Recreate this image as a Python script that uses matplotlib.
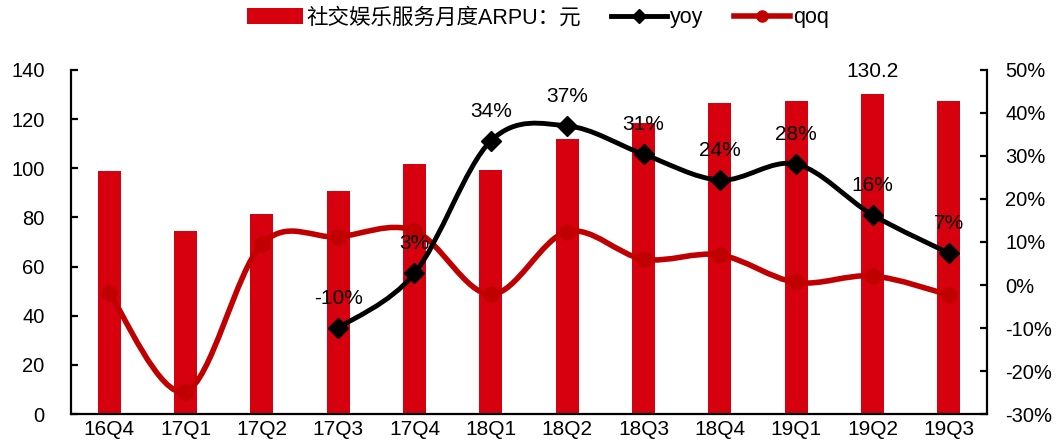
import numpy as np
import matplotlib
matplotlib.use("Agg")
import matplotlib.pyplot as plt
from matplotlib.path import Path
from matplotlib.patches import PathPatch
from matplotlib.lines import Line2D
from matplotlib.patches import Patch

plt.rcParams['font.family'] = ['Liberation Sans', 'Noto Sans CJK SC', 'DejaVu Sans']

quarters = ['16Q4', '17Q1', '17Q2', '17Q3', '17Q4', '18Q1', '18Q2',
            '18Q3', '18Q4', '19Q1', '19Q2', '19Q3']
arpu = [98.9, 74.5, 81.4, 90.6, 101.7, 99.3, 111.8, 118.3, 126.7, 127.4, 130.2, 127.3]
yoy = [None, None, None, -10.0, 2.7, 33.5, 37.0, 30.4, 24.4, 28.1, 16.3, 7.4]
yoy_labels = [None, None, None, '-10%', '3%', '34%', '37%', '31%', '24%', '28%', '16%', '7%']
qoq = [-1.8, -24.8, 9.5, 11.2, 12.6, -2.2, 12.4, 6.0, 7.0, 0.6, 2.1, -2.3]

BAR_RED = '#D7000F'
LINE_RED = '#C00000'


def smooth_path(xs, ys):
    """Bezier path through the points, with Catmull-Rom style control points."""
    pts = np.column_stack([xs, ys]).astype(float)
    n = len(pts)
    verts = [pts[0]]
    codes = [Path.MOVETO]
    for i in range(n - 1):
        p0 = pts[i - 1] if i > 0 else pts[i]
        p1 = pts[i]
        p2 = pts[i + 1]
        p3 = pts[i + 2] if i + 2 < n else pts[i + 1]
        c1 = p1 + (p2 - p0) / 6.0
        c2 = p2 - (p3 - p1) / 6.0
        verts += [c1, c2, p2]
        codes += [Path.CURVE4] * 3
    return Path(verts, codes)


fig = plt.figure(figsize=(10.56, 4.41), dpi=100)
ax = fig.add_axes([0.0672, 0.0612, 0.9347 - 0.0672, 0.8413 - 0.0612])
ax2 = ax.twinx()

x = np.arange(len(quarters))
ax.bar(x, arpu, width=0.3, color=BAR_RED, zorder=2)
ax.set_xlim(-0.5, len(quarters) - 0.5)
ax.set_ylim(0, 140)
ax.set_yticks(np.arange(0, 141, 20))
ax.set_xticks(x)
ax.set_xticklabels(quarters)

# value label on the peak bar
imax = int(np.argmax(arpu))
ax.annotate(f'{arpu[imax]:.1f}', (x[imax], arpu[imax]), xytext=(0, 16),
            textcoords='offset points', ha='center', va='center', fontsize=15)

ax2.set_ylim(-30, 50)
ax2.set_yticks(np.arange(-30, 51, 10))
ax2.set_yticklabels([f'{v}%' for v in range(-30, 51, 10)])

# qoq line
ax2.add_patch(PathPatch(smooth_path(x, qoq), fill=False, edgecolor=LINE_RED,
                        lw=4.0, capstyle='round', joinstyle='round', zorder=3))
ax2.plot(x, qoq, linestyle='none', marker='o', markersize=11,
         color=LINE_RED, zorder=3)

# yoy line
yx = np.array([i for i, v in enumerate(yoy) if v is not None])
yv = np.array([v for v in yoy if v is not None])
ax2.add_patch(PathPatch(smooth_path(yx, yv), fill=False, edgecolor='black',
                        lw=3.5, capstyle='round', joinstyle='round', zorder=4))
ax2.plot(yx, yv, linestyle='none', marker='D', markersize=10,
         color='black', zorder=4)
for i, v in zip(yx, yv):
    ax2.annotate(yoy_labels[i], (i, v), xytext=(0, 21.5), textcoords='offset points',
                 ha='center', va='center', fontsize=15, zorder=5)

for a in (ax, ax2):
    a.spines['top'].set_visible(False)
    for s in ('left', 'right', 'bottom'):
        a.spines[s].set_linewidth(1.6)
        a.spines[s].set_color('black')
ax.spines['right'].set_visible(False)
ax2.spines['left'].set_visible(False)
ax2.spines['bottom'].set_visible(False)

ax.tick_params(axis='y', direction='in', length=5, width=1.6, pad=19, labelsize=14.5)
ax.tick_params(axis='x', length=0, pad=4, labelsize=15)
ax2.tick_params(axis='y', direction='in', length=5, width=1.6, pad=13, labelsize=14.5)

handles = [
    Patch(facecolor=BAR_RED, edgecolor='none'),
    Line2D([], [], color='black', lw=3.5, marker='D', markersize=7),
    Line2D([], [], color=LINE_RED, lw=4.0, marker='o', markersize=8),
]
labels = ['社交娱乐服务月度ARPU：元', 'yoy', 'qoq']
fig.legend(handles, labels, loc='center', bbox_to_anchor=(538 / 1056, 1 - 18 / 441),
           ncol=3, frameon=False, fontsize=15.5, handlelength=2.6,
           handletextpad=0.15, columnspacing=1.4, handleheight=0.8)

fig.savefig('out.png', dpi=100)
